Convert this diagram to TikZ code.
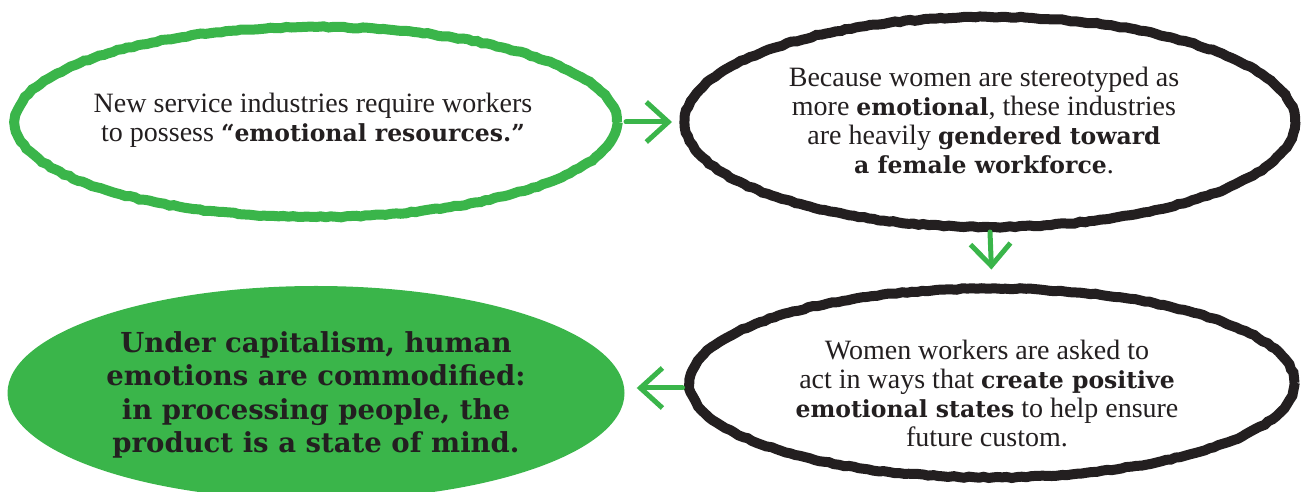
\documentclass[tikz,border=0pt]{standalone}
\usepackage{fontspec}
\setmainfont{Liberation Serif}
\newfontfamily\slab{DejaVu Serif}
\usetikzlibrary{arrows.meta,decorations.pathmorphing,shapes.geometric}
\definecolor{lgreen}{HTML}{3AB54A}
\definecolor{ink}{HTML}{231F20}
\newcommand\hb[1]{{\slab\bfseries\fontsize{23.5}{29}\selectfont #1}}
\tikzset{
  bubble/.style={ellipse, inner sep=0pt, line width=10pt, decorate,
    decoration={random steps,segment length=5pt,amplitude=0.7pt}},
  greenring/.style={bubble, draw=lgreen},
  blackring/.style={bubble, draw=ink},
  greenfill/.style={ellipse, inner sep=0pt, fill=lgreen},
  body/.style={align=center, text=ink, inner sep=0pt, font=\fontsize{28}{29}\selectfont},
  strong/.style={align=center, text=ink, inner sep=0pt, font=\slab\bfseries\fontsize{27.5}{33.5}\selectfont},
  flow/.style={draw=lgreen, line width=5pt, line cap=round,
    -{Straight Barb[length=22pt,width=40pt]}}
}
\begin{document}
\pgfmathsetseed{7}
\begin{tikzpicture}[x=1pt,y=1pt]
\useasboundingbox (0,0) rectangle (1306,492);
\node[greenring, minimum width=602pt, minimum height=190pt] (e1) at (316,370) {};
\node[blackring, minimum width=610pt, minimum height=210pt] (e2) at (990,370) {};
\node[blackring, minimum width=605pt, minimum height=189pt] (e3) at (992,109) {};
\node[greenfill, minimum width=617pt, minimum height=214pt] (e4) at (316,99) {};
\node[body] (t1) at (313,372) {New service industries require workers\\to possess \hb{“emotional resources.”}};
\node[body] (t2) at (984,372) {Because women are stereotyped as\\more \hb{emotional}, these industries\\are heavily \hb{gendered toward}\\\hb{a female workforce}.};
\node[body] (t3) at (987,99) {Women workers are asked to\\act in ways that \hb{create positive}\\\hb{emotional states} to help ensure\\future custom.};
\node[strong] (t4) at (316,97) {Under capitalism, human\\emotions are commodified:\\in processing people, the\\product is a state of mind.};
\draw[flow, shorten <=4pt, shorten >=8pt] (e1.east) -- (e2.west);
\draw[flow, shorten >=14pt] (e2.south) -- (e3.north);
\draw[flow, shorten <=2pt, shorten >=12pt] ([yshift=-5pt]e3.west) -- ([yshift=-5pt]e3.west -| e4.east);
\end{tikzpicture}
\end{document}
